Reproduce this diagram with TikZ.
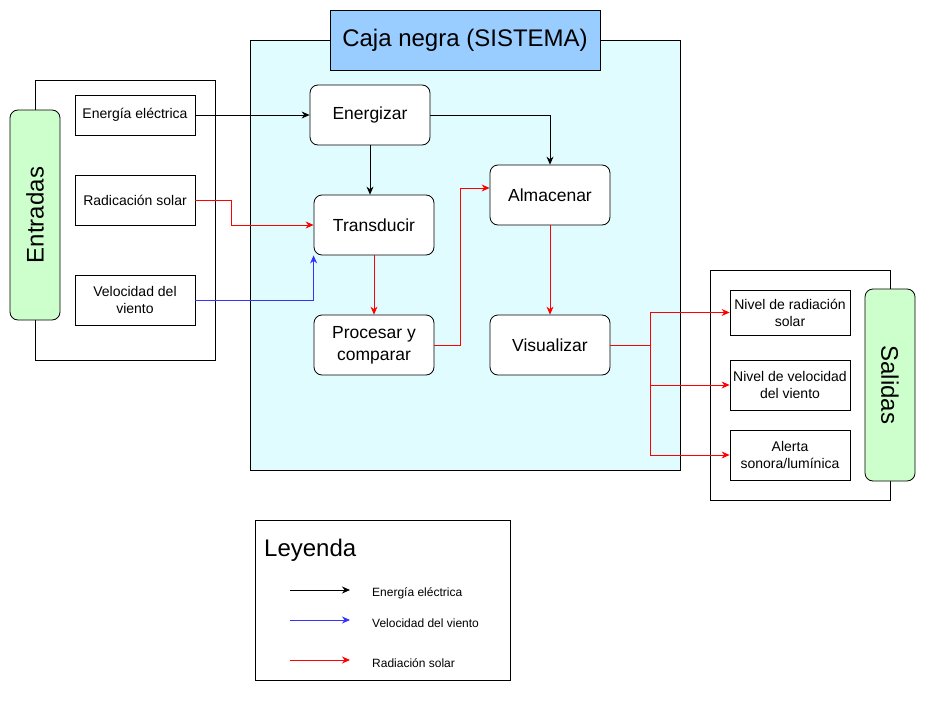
\documentclass[tikz,border=0pt]{standalone}
\usepackage{fontspec}
\setmainfont{Liberation Sans}
\usetikzlibrary{arrows.meta}
\definecolor{cajafondo}{HTML}{E0FCFF}
\definecolor{titulofondo}{HTML}{99CCFF}
\definecolor{verde}{HTML}{CCFFCC}
\definecolor{azul}{HTML}{3333FF}
\tikzset{
    marco/.style={draw, line width=0.8pt, inner sep=0pt},
    caja/.style={draw, line width=0.8pt, fill=white, inner sep=2pt, minimum width=120, align=center,
        font=\fontsize{14}{17}\selectfont},
    proceso/.style={draw, line width=0.8pt, fill=white, rounded corners=8pt, minimum width=120,
        minimum height=60, align=center, font=\fontsize{17.5}{22}\selectfont},
    lateral/.style={draw, line width=0.8pt, fill=verde, rounded corners=8pt, minimum height=50,
        font=\fontsize{24}{28}\selectfont},
    flecha/.style={line width=0.8pt, -{Stealth[length=8pt,width=7pt]}},
}
\begin{document}
\begin{tikzpicture}[x=1pt,y=-1pt]
    \useasboundingbox (0,0) rectangle (926,701);

    % entradas
    \node[marco, minimum width=180, minimum height=280] (marcoE) at (125,220) {};
    \node[lateral, rotate=90, minimum width=210] (entradas) at (35,215) {Entradas};
    \node[caja, minimum height=40] (ee) at (135,115) {Energía eléctrica};
    \node[caja, minimum height=50] (rs) at (135,200) {Radicación solar};
    \node[caja, minimum height=50] (vv) at (135,300) {Velocidad del\\viento};

    % caja negra
    \node[marco, fill=cajafondo, minimum width=430, minimum height=430] (sistema) at (465,255) {};
    \node[marco, fill=titulofondo, minimum width=270, minimum height=60,
        font=\fontsize{24}{28}\selectfont] (titulo) at (465,40) {Caja negra (SISTEMA)};
    \node[proceso] (energizar) at (370,115) {Energizar};
    \node[proceso] (transducir) at (374,225) {Transducir};
    \node[proceso] (almacenar) at (550,195) {Almacenar};
    \node[proceso] (procesar) at (374,345) {Procesar y\\comparar};
    \node[proceso] (visualizar) at (550,345) {Visualizar};

    % salidas
    \node[marco, minimum width=180, minimum height=230] (marcoS) at (800,385) {};
    \node[lateral, rotate=-90, minimum width=192] (salidas) at (890,385) {Salidas};
    \node[caja, minimum height=45] (nrad) at (790,312.5) {Nivel de radiación\\solar};
    \node[caja, minimum height=50] (nvel) at (790,385) {Nivel de velocidad\\del viento};
    \node[caja, minimum height=50] (alerta) at (790,455) {Alerta\\sonora/lumínica};

    % conexiones
    \draw[flecha] (ee) -- (energizar);
    \draw[flecha] (energizar.east) -| (almacenar.north);
    \draw[flecha] (energizar.south) -- (energizar.south |- transducir.north);
    \draw[flecha, red] (rs.east) -- ++(36,0) |- (transducir.west);
    \draw[flecha, azul] (vv.east) -| (transducir.south west);
    \draw[flecha, red] (transducir) -- (procesar);
    \draw[flecha, red] (procesar.east) -- ++(26,0) |- ([yshift=7pt]almacenar.west);
    \draw[flecha, red] (almacenar) -- (visualizar);
    \coordinate (rama) at (650,345);
    \draw[line width=0.8pt, red] (visualizar.east) -- (rama);
    \foreach \s in {nrad, nvel, alerta}
        {
            \draw[flecha, red] (rama) |- (\s.west);
        }

    % leyenda
    \node[marco, minimum width=255, minimum height=160] (leyenda) at (382.5,600) {};
    \node[anchor=west, inner sep=0pt, font=\fontsize{24}{28}\selectfont] (leyendatit) at (264,550) {Leyenda};
    \foreach \y/\col/\txt [count=\i] in {590/black/Energía eléctrica, 620/azul/Velocidad del viento, 660/red/Radiación solar}
        {
            \coordinate (la\i) at (290,\y);
            \coordinate (lb\i) at (350,\y);
            \draw[flecha, \col] (la\i) -- (lb\i);
            \node[anchor=west, inner sep=0pt, font=\fontsize{12}{14}\selectfont] (lt\i) at (372,\y+3) {\txt};
        }
\end{tikzpicture}
\end{document}
